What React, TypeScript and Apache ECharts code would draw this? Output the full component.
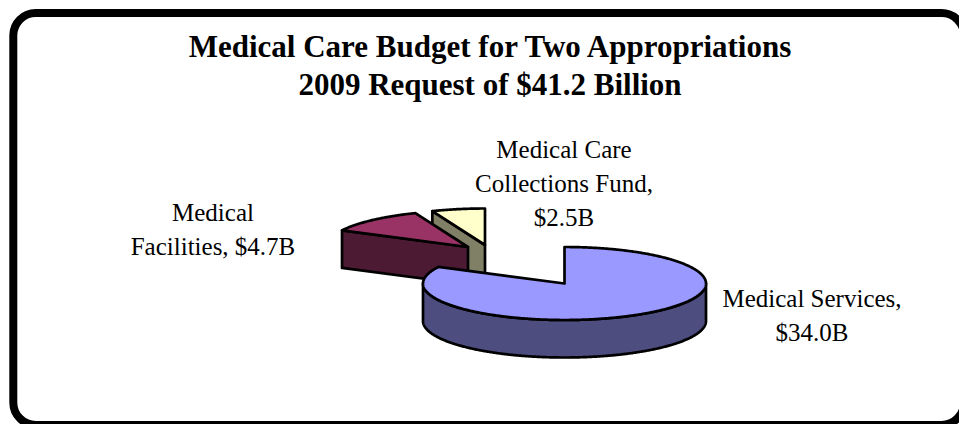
import React, { useEffect, useRef } from "react";
import * as echarts from "echarts";

const titleLines = ["Medical Care Budget for Two Appropriations", "2009 Request of $41.2 Billion"];
const categories = ["Medical Services", "Medical Facilities", "Medical Care Collections Fund"];
const budgetBillions = [34.0, 4.7, 2.5];
const labelTexts = ["Medical Services,\n$34.0B", "Medical\nFacilities, $4.7B", "Medical Care\nCollections Fund,\n$2.5B"];
const topColors = ["#9999FF", "#993366", "#FFFFCC"];
const wallColors = ["#4D4D80", "#4D1A33", "#808066"];

const SERIF = '"Liberation Serif", serif';
const RX = 141.5;
const RY = 36.5;
const DEPTH = 37.5;
const apexes = [[564.5, 283.5], [468, 247], [485, 245]];
const labelAnchors = [[812, 315], [213, 229], [564, 183]];
const DRAW_ORDER = [2, 1, 0];

const rim = (cx: number, cy: number, deg: number): [number, number] => {
  const a = (deg * Math.PI) / 180;
  return [cx + RX * Math.sin(a), cy - RY * Math.cos(a)];
};

const arc = (cx: number, cy: number, from: number, to: number) => {
  const pts: [number, number][] = [];
  const steps = Math.max(2, Math.ceil(Math.abs(to - from) * 2));
  for (let i = 0; i <= steps; i++) pts.push(rim(cx, cy, from + ((to - from) * i) / steps));
  return pts;
};

const total = budgetBillions.reduce((s, v) => s + v, 0);

// Each wedge: its visible walls first, then the top face, as polygons.
const renderWedge = (_: any, api: any) => {
  const i = api.value(0);
  let start = 0;
  for (let k = 0; k < i; k++) start += (budgetBillions[k] / total) * 360;
  const end = start + (api.value(1) / total) * 360;
  const [cx, cy] = apexes[i];
  const stroke = { stroke: "#000", lineWidth: 2.7, lineJoin: "round" };
  const children: any[] = [];
  const wall = (points: number[][]) =>
    children.push({ type: "polygon", shape: { points }, style: { fill: wallColors[i], ...stroke } });

  if (i === 0) {
    // Outer rim seen from the front, the lower half of the ellipse
    const front = arc(cx, cy, 90, 270);
    wall([...front, ...front.slice().reverse().map(([x, y]) => [x, y + DEPTH])]);
  } else {
    // Cut face on the leading radial edge of a pulled-out wedge
    const e = rim(cx, cy, start);
    wall([e, [cx, cy], [cx, cy + DEPTH], [e[0], e[1] + DEPTH]]);
  }
  children.push({
    type: "polygon",
    shape: { points: [[cx, cy], ...arc(cx, cy, start, end)] },
    style: { fill: topColors[i], ...stroke },
  });
  return { type: "group", children };
};

export default function App() {
  const ref = useRef<HTMLDivElement>(null);
  useEffect(() => {
    const chart = echarts.init(ref.current!, null, { renderer: "svg" });
    chart.setOption({
      animation: false,
      backgroundColor: "#fff",
      title: {
        text: titleLines.join("\n"),
        left: 485,
        top: 22,
        textAlign: "center",
        textStyle: { fontFamily: SERIF, fontWeight: "bold", fontSize: 31, lineHeight: 38, color: "#000", align: "center" },
      },
      graphic: [
        {
          type: "rect",
          shape: { x: 13.3, y: 13, width: 950.7, height: 412, r: 22.5 },
          style: { fill: "none", stroke: "#000", lineWidth: 8 },
          silent: true,
        },
        ...labelTexts.map((text, i) => ({
          type: "text",
          x: labelAnchors[i][0],
          y: labelAnchors[i][1],
          style: {
            text,
            fill: "#000",
            font: `25px ${SERIF}`,
            lineHeight: 34,
            align: "center",
            verticalAlign: "middle",
          },
        })),
      ],
      series: [
        {
          type: "custom",
          coordinateSystem: "none",
          renderItem: renderWedge,
          data: DRAW_ORDER.map((i) => ({ name: categories[i], value: [i, budgetBillions[i]] })),
          encode: { value: 1 },
          silent: true,
        },
      ],
    });
    return () => chart.dispose();
  }, []);
  return <div ref={ref} style={{ width: 959, height: 424, position: "fixed", left: 0, top: 0 }} />;
}
